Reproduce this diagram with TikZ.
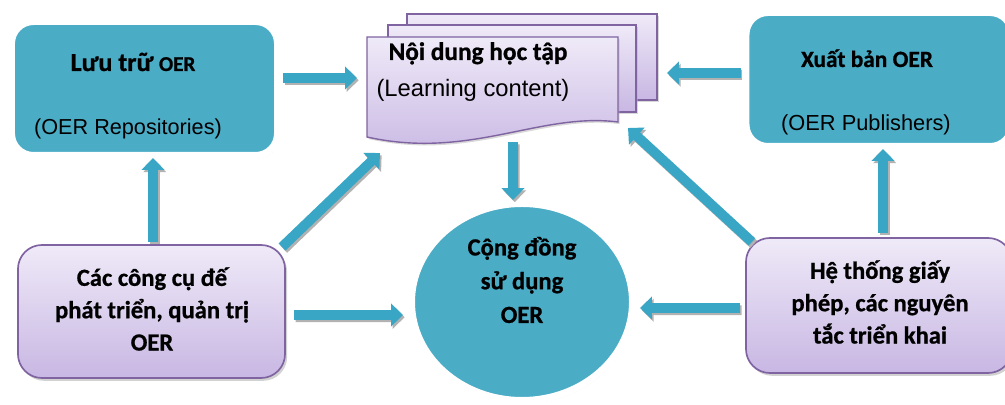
\documentclass[tikz,border=0pt]{standalone}
\usepackage{fontspec}
\setmainfont{Carlito}[BoldFeatures={FakeBold=0.8}]
\newfontfamily\arialf{Liberation Sans}
\usetikzlibrary{shapes.geometric,shadows,arrows.meta,calc}
\definecolor{tealbox}{HTML}{4BACC6}
\definecolor{arrowc}{HTML}{38A6C4}
\definecolor{lavtop}{HTML}{EFEAF8}
\definecolor{lavbot}{HTML}{C8B7E3}
\definecolor{lavline}{HTML}{8064A2}
\tikzset{
  tealnode/.style={rectangle, rounded corners=0.55cm, fill=tealbox, draw=white, line width=5pt,
    outer sep=0pt, minimum width=6.65cm, minimum height=3.35cm,
    drop shadow={shadow xshift=1.2pt, shadow yshift=-2pt, fill=black!35}},
  lavnode/.style={rectangle, rounded corners=0.6cm, top color=lavtop, bottom color=lavbot, draw=lavline,
    line width=1.2pt, outer sep=0pt,
    drop shadow={shadow xshift=1.5pt, shadow yshift=-2pt, fill=black!35}},
  docshape/.style={top color=lavtop, bottom color=lavbot, draw=lavline, line width=1pt,
    drop shadow={shadow xshift=1.2pt, shadow yshift=-1.5pt, fill=black!30}},
  boldtxt/.style={font=\bfseries\fontsize{17.5}{23}\selectfont, inner sep=0pt, align=center},
  armtxt/.style={font=\arialf\fontsize{15.4}{18}\selectfont, inner sep=0pt},
  barrow/.style={draw=arrowc, line width=7pt, -{Triangle[width=16pt,length=8.5pt]},
    preaction={draw=black!30, line width=7pt, -{Triangle[width=16pt,length=8.5pt]},
      transform canvas={shift={(1.2pt,-1.6pt)}}}}
}
\begin{document}
\begin{tikzpicture}[x=0.025cm,y=-0.025cm]
\useasboundingbox (0,0) rectangle (1005,405);

% teal boxes
\node[tealnode] (lu) at (144.5,88.5) {};
\node[tealnode] (xb) at (879,79.5) {};

% documents
\path[docshape] (407,14) rectangle (657,100);
\path[docshape] (388,25) rectangle (636,112);
\path[docshape] (367,37) -- (618,37) -- (618,122) .. controls (540,112) and (470,160) .. (367,137) -- cycle;
\node[minimum width=6.275cm, minimum height=2.575cm, inner sep=0pt, outer sep=0pt] (lc) at (492.5,88.5) {};

% lavender boxes
\node[lavnode, minimum width=6.675cm, minimum height=3.325cm] (cc) at (151.5,311.5) {};
\node[lavnode, minimum width=6.65cm, minimum height=3.375cm] (ht) at (879,305.5) {};

% circle
\node[ellipse, fill=tealbox, draw=white, line width=5pt, outer sep=0pt,
  minimum width=5.525cm, minimum height=4.925cm,
  drop shadow={shadow xshift=1.2pt, shadow yshift=-2pt, fill=black!30}] (cd) at (522,302) {};

% texts
\node[boldtxt, anchor=base] (lut) at (133,71) {{\fontsize{18.5}{20}\selectfont Lưu trữ} {\fontsize{15}{15}\selectfont OER}};
\node[armtxt, anchor=base] (lus) at (128,135) {(OER Repositories)};
\node[boldtxt, anchor=base, font=\bfseries\fontsize{16.6}{20}\selectfont] (xbt) at (867,67) {Xuất bản OER};
\node[armtxt, anchor=base, font=\arialf\fontsize{15.5}{18}\selectfont] (xbs) at (866,131) {(OER Publishers)};
\node[boldtxt, anchor=base, font=\bfseries\fontsize{18}{20}\selectfont] (lct) at (478,60) {Nội dung học tập};
\node[armtxt, anchor=base, font=\arialf\fontsize{16.9}{18}\selectfont] (lcs) at (473,97) {(Learning content)};
\node[boldtxt] (cct) at (152,309) {Các công cụ đế\\phát triển, quản trị\\OER};
\node[boldtxt] (htt) at (880,302) {Hệ thống giấy\\phép, các nguyên\\tắc triển khai};
\node[boldtxt, font=\bfseries\fontsize{17.5}{24}\selectfont] (cdt) at (522,280) {Cộng đồng\\sử dụng\\OER};

% arrows
\draw[barrow] ($(lu.east)+(5.5,-10.5)$) -- ($(lc.west)+(-10,-10.5)$);
\draw[barrow] ($(xb.west)+(-5.25,-6.5)$) -- ($(lc.east)+(49,-15.5)$);
\draw[barrow] ($(cc.north)+(1.5,-3)$) -- ($(lu.south)+(8.5,2.5)$);
\draw[barrow] ($(ht.north)+(4,-5)$) -- ($(xb.south)+(4,2.5)$);
\draw[barrow] ($(lc.south)+(20.5,2)$) -- ($(cd.north)+(-9,-3.5)$);
\draw[barrow] ($(cc.north east)+(-3,2)$) -- ($(lc.south west)+(13,13)$);
\draw[barrow] ($(ht.north west)+(6,4)$) -- ($(lc.south east)+(10,-12)$);
\draw[barrow] ($(cc.east)+(9,3.5)$) -- ($(cd.west)+(-8.5,13)$);
\draw[barrow] ($(ht.west)+(-6,2.5)$) -- ($(cd.east)+(7.5,6)$);
\end{tikzpicture}
\end{document}
